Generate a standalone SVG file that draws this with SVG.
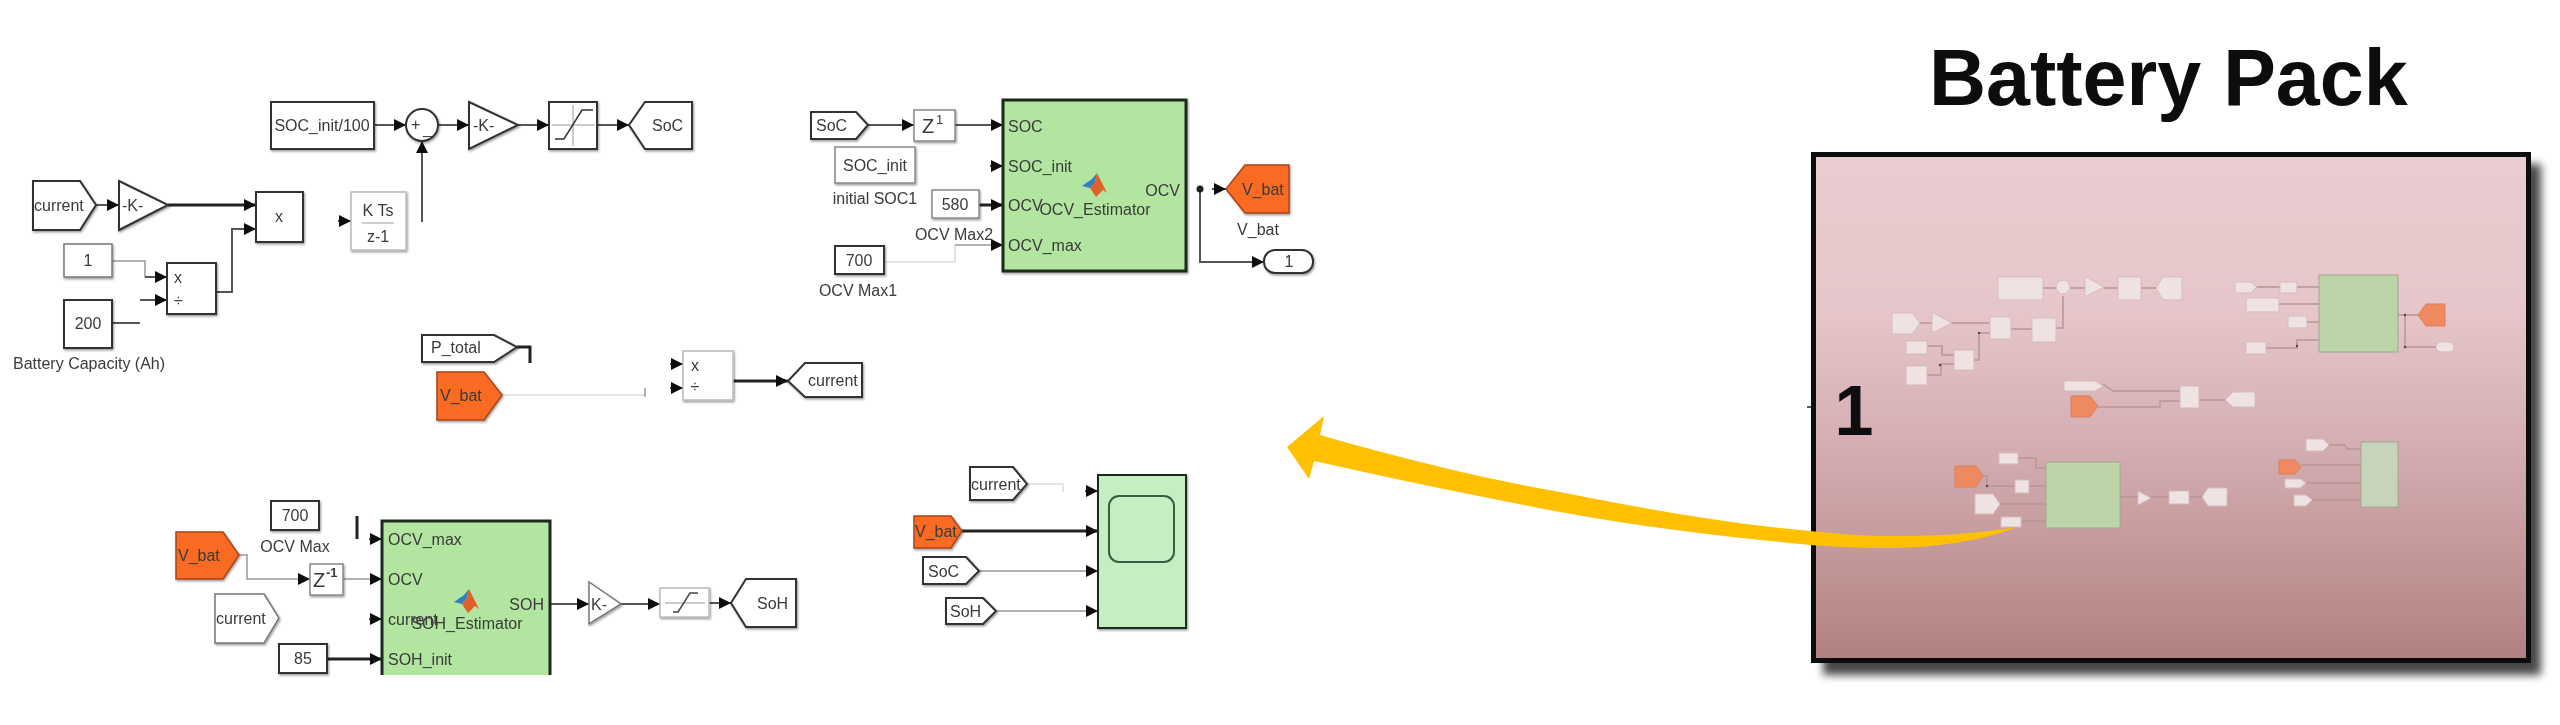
<svg xmlns="http://www.w3.org/2000/svg" width="2560" height="725" viewBox="0 0 2560 725">
<style>
text{font-family:"Liberation Sans",Arial,sans-serif;font-size:16px;fill:#3a3a3a}
.m{text-anchor:middle}
.b{fill:#fff;stroke:#333;stroke-width:2;filter:url(#sh)}
.w{fill:#fff;stroke:#bbb;stroke-width:1.5;filter:url(#sh)}
.o{fill:#f96a24;stroke:#a8451a;stroke-width:1.5;filter:url(#sh)}
.g{fill:#b2e5a0;stroke:#1e2c1e;stroke-width:3;filter:url(#sh)}
.c{fill:none;stroke:#555;stroke-width:2}
.t{fill:none;stroke:#222;stroke-width:3}
.y{fill:none;stroke:#999;stroke-width:1.5}
.l{fill:none;stroke:#ddd;stroke-width:1.5}
.a{marker-end:url(#ah)}
.mb{fill:#eee2e2;stroke:#d5bcbc;stroke-width:1}
.mo{fill:#ef8a60;stroke:#d9805c;stroke-width:1}
.mg{fill:#bdd3a8;stroke:#a0a88c;stroke-width:1}
.mc{fill:none;stroke:#b89595;stroke-width:1.5}
.md{fill:#554040}
</style>
<defs>
<linearGradient id="panel" x1="0" y1="0" x2="0" y2="1">
<stop offset="0" stop-color="#e9cdd0"/><stop offset=".31" stop-color="#e6c6ca"/><stop offset=".45" stop-color="#dcb9bd"/><stop offset=".59" stop-color="#d3acb0"/><stop offset=".73" stop-color="#c89ea0"/><stop offset=".87" stop-color="#bd8f8f"/><stop offset="1" stop-color="#b18080"/>
</linearGradient>
<filter id="sh" x="-20%" y="-20%" width="150%" height="150%"><feDropShadow dx="1" dy="1.5" stdDeviation="1" flood-color="#000" flood-opacity=".4"/></filter>
<filter id="soft" filterUnits="userSpaceOnUse" x="0" y="0" width="2560" height="725"><feGaussianBlur stdDeviation=".6"/></filter>
<filter id="blur" x="-5%" y="-5%" width="110%" height="110%"><feGaussianBlur stdDeviation="4.5"/></filter>
<marker id="ah" markerUnits="userSpaceOnUse" markerWidth="13" markerHeight="13" refX="12" refY="6" orient="auto"><path d="M0 0L12 6L0 12z" fill="#111"/></marker>
<g id="matlab">
<path d="M0 13L10 6L15 0L13 9L8 15z" fill="#2f7fc4"/>
<path d="M15 0L25 20L21 17L14 24L8 15L13 9z" fill="#e0602a"/>
</g>
</defs>
<rect id="background" width="2560" height="725" fill="#fff"/>
<g id="diagram" filter="url(#soft)">
<g id="connectors">
<path class="c a" d="M374 125H406"/>
<path class="c a" d="M438 125H469"/>
<path class="c a" d="M518 125H549"/>
<path class="c a" d="M597 125H629"/>
<path class="c a" d="M422 222V141"/>
<path class="c a" d="M96 205H119"/>
<path class="t a" d="M168 205H256"/>
<path class="c a" d="M216 292H232V229H256"/>
<path class="c a" d="M338 221H351"/>
<path class="y" d="M112 261H145V277"/>
<path class="c a" d="M145 277H167"/>
<path class="c a" d="M140 300H167"/>
<path class="c" d="M112 323H140"/>
<path class="t" d="M517 347H530V363"/>
<path class="l" d="M502 395H645"/>
<path class="y" d="M645 388V397"/>
<path class="c a" d="M670 364H683"/>
<path class="c a" d="M670 388H683"/>
<path class="t a" d="M733 381H788"/>
<path class="c a" d="M868 125H914"/>
<path class="c a" d="M955 125H1003"/>
<path class="c a" d="M990 166H1003"/>
<path class="t a" d="M979 205H1003"/>
<path class="l" d="M884 262H955V245"/>
<path class="y a" d="M955 245H1003"/>
<path class="c a" d="M1212 189H1226"/>
<path class="c a" d="M1200 189V262H1264"/>
<circle cx="1200" cy="189" r="3.5" fill="#222"/>
<path class="t" d="M357 516V539"/>
<path class="c a" d="M369 539H382"/>
<path class="y a" d="M239 555H247V579H310"/>
<path class="y a" d="M343 579H382"/>
<path class="c a" d="M369 619H382"/>
<path class="t a" d="M327 659H382"/>
<path class="c a" d="M550 604H589"/>
<path class="c a" d="M621 604H660"/>
<path class="c a" d="M709 603H731"/>
<path class="l" d="M1027 484H1063V492"/>
<path class="c a" d="M1085 491H1098"/>
<path class="t a" d="M962 531H1098"/>
<path class="y a" d="M979 571H1098"/>
<path class="y a" d="M996 611H1098"/>
</g>

<g id="soc-init-100"><rect class="b" x="271" y="102" width="103" height="47"/><text class="m" x="322" y="131">SOC_init/100</text></g>
<g id="sum"><circle class="b" cx="422" cy="125" r="16"/><text x="411" y="130" font-size="14">+</text><text x="423" y="134">_</text></g>
<g id="gain-soc"><path class="b" d="M469 102L518 125L469 149z"/><text x="473" y="131">-K-</text></g>
<g id="saturation-soc"><rect class="b" x="549" y="102" width="48" height="47"/><path d="M552 125H595M573 105V146" fill="none" stroke="#bbb" stroke-width="1.5"/><path d="M555 139H564L582 110H593" fill="none" stroke="#333" stroke-width="1.5"/></g>
<g id="goto-soc"><path class="b" d="M692 102H645L629 125L645 149H692z"/><text x="652" y="131">SoC</text></g>
<g id="from-current-1"><path class="b" d="M33 181H80L96 205L80 230H33z"/><text x="34" y="211">current</text></g>
<g id="gain-current"><path class="b" d="M119 181L168 205L119 230z"/><text x="122" y="211">-K-</text></g>
<g id="product-1"><rect class="b" x="256" y="192" width="47" height="50"/><text class="m" x="279" y="222">x</text></g>
<g id="integrator"><rect class="w" x="351" y="192" width="55" height="58"/><text class="m" x="378" y="216">K Ts</text><path d="M362 223H394" stroke="#bbb" stroke-width="1.5"/><text class="m" x="378" y="242">z-1</text></g>
<g id="const-1"><rect class="w" x="64" y="244" width="48" height="33" style="stroke:#777"/><text class="m" x="88" y="266">1</text></g>
<g id="const-200"><rect class="b" x="64" y="300" width="48" height="48"/><text class="m" x="88" y="329">200</text></g>
<g id="product-2"><rect class="b" x="167" y="263" width="49" height="51"/><text x="174" y="283">x</text><text x="174" y="306">÷</text></g>
<g id="battery-capacity"><text x="13" y="369">Battery Capacity (Ah)</text></g>

<g id="from-p-total"><path class="b" d="M422 335H494L517 347L494 362H422z"/><text x="431" y="353">P_total</text></g>
<g id="from-v-bat-1"><path class="o" d="M437 372H484L502 395L484 420H437z"/><text x="440" y="401">V_bat</text></g>
<g id="divide"><rect class="w" x="683" y="351" width="50" height="49"/><text class="m" x="695" y="371">x</text><text class="m" x="695" y="392" fill="#999">÷</text></g>
<g id="goto-current"><path class="b" d="M862 363H805L788 381L805 397H862z"/><text x="808" y="386">current</text></g>

<g id="from-soc-1"><path class="b" d="M811 112H856L868 125L856 139H811z"/><text x="816" y="131">SoC</text></g>
<g id="delay-soc"><rect class="w" x="914" y="110" width="41" height="31" style="stroke:#888"/><text x="922" y="133" font-size="20" style="font-size:20px">Z</text><text x="936" y="124" style="font-size:13px">1</text></g>
<g id="soc-init"><rect class="w" x="835" y="147" width="80" height="36" style="stroke:#888"/><text class="m" x="875" y="171">SOC_init</text></g>
<g id="label-initial-soc"><text class="m" x="875" y="204">initial SOC1</text></g>
<g id="const-580"><rect class="w" x="932" y="190" width="47" height="28" style="stroke:#888"/><text class="m" x="955" y="210">580</text></g>
<g id="label-ocv-max2"><text class="m" x="954" y="240">OCV Max2</text></g>
<g id="const-700-1"><rect class="b" x="835" y="246" width="49" height="28"/><text class="m" x="859" y="266">700</text></g>
<g id="label-ocv-max1"><text class="m" x="858" y="296">OCV Max1</text></g>
<g id="ocv-estimator"><rect class="g" x="1003" y="100" width="183" height="171"/><use href="#matlab" x="1082" y="173"/><text x="1008" y="132">SOC</text><text x="1008" y="172">SOC_init</text><text x="1008" y="211">OCV</text><text x="1008" y="251">OCV_max</text><text x="1180" y="196" text-anchor="end">OCV</text><text class="m" x="1095" y="215">OCV_Estimator</text></g>
<g id="goto-v-bat"><path class="o" d="M1289 165H1245L1226 189L1245 213H1289z"/><text x="1242" y="195">V_bat</text></g>
<g id="label-v-bat"><text class="m" x="1258" y="235">V_bat</text></g>
<g id="outport-1"><rect class="b" x="1264" y="250" width="49" height="23" rx="11"/><text class="m" x="1289" y="267">1</text></g>

<g id="const-700-2"><rect class="b" x="271" y="501" width="48" height="29"/><text class="m" x="295" y="521">700</text></g>
<g id="label-ocv-max"><text class="m" x="295" y="552">OCV Max</text></g>
<g id="from-v-bat-2"><path class="o" d="M176 532H223L239 555L223 579H176z"/><text x="178" y="561">V_bat</text></g>
<g id="delay-ocv"><rect class="w" x="310" y="564" width="33" height="31" style="stroke:#888"/><text x="313" y="587" style="font-size:20px">Z</text><text x="326" y="577" style="font-size:13px;font-weight:bold">-1</text></g>
<g id="from-current-2"><path class="w" d="M215 594H264L279 618L264 643H215z" style="stroke:#777"/><text x="216" y="624">current</text></g>
<g id="const-85"><rect class="b" x="279" y="644" width="48" height="29"/><text class="m" x="303" y="664">85</text></g>
<g id="soh-estimator"><path d="M382 675V521H550V675z" fill="#b2e5a0"/><path d="M382 675V521H550V675" fill="none" stroke="#1e2c1e" stroke-width="3"/><use href="#matlab" x="454" y="589"/><text x="388" y="545">OCV_max</text><text x="388" y="585">OCV</text><text x="388" y="625">current</text><text x="388" y="665">SOH_init</text><text x="544" y="610" text-anchor="end">SOH</text><text class="m" x="467" y="629">SOH_Estimator</text></g>
<g id="gain-soh"><path class="w" d="M589 582L621 604L589 624z" style="stroke:#777"/><text x="591" y="610">K-</text></g>
<g id="saturation-soh"><rect class="w" x="660" y="588" width="49" height="29"/><path d="M665 603H705" stroke="#bbb" stroke-width="1.5"/><path d="M673 612H678L690 593H698" fill="none" stroke="#444" stroke-width="1.5"/></g>
<g id="goto-soh"><path class="b" d="M796 579H746L731 603L746 627H796z"/><text x="757" y="609">SoH</text></g>

<g id="from-current-3"><path class="b" d="M970 467H1013L1027 484L1013 500H970z"/><text x="971" y="490">current</text></g>
<g id="from-v-bat-3"><path class="o" d="M914 516H951L962 531L951 548H914z"/><text x="915" y="537">V_bat</text></g>
<g id="from-soc-2"><path class="b" d="M923 557H966L979 571L966 584H923z"/><text x="928" y="577">SoC</text></g>
<g id="from-soh"><path class="b" d="M946 598H983L996 611L983 624H946z"/><text x="950" y="617">SoH</text></g>
<g id="scope"><rect x="1098" y="475" width="88" height="153" fill="#c5eec2" stroke="#1e2c1e" stroke-width="2" filter="url(#sh)"/><rect x="1109" y="496" width="65" height="66" rx="10" fill="#c5eec2" stroke="#3c5a42" stroke-width="2"/></g>

<g id="title"><text x="1929" y="105" style="font-size:79px;font-weight:bold;fill:#0a0a0a">Battery Pack</text></g>
<g id="battery-pack">
<rect x="1823" y="164" width="718" height="511" fill="#000" opacity=".72" filter="url(#blur)"/>
<rect x="1813.5" y="154.5" width="715" height="506" fill="url(#panel)" stroke="#0a0a0a" stroke-width="5"/>
<path d="M1807 407H1811" stroke="#222" stroke-width="1.5"/>
<text class="m" x="1854" y="435" style="font-size:70px;font-weight:bold;fill:#0a0a0a">1</text>
<g id="mini-connectors">
<path class="mc" d="M2043 288H2056M2070 288H2085M2104 288H2118M2141 288H2156M2063 296V328H2056M1920 323H1932M1952 323H1990M2011 329H2032M1927 346H1942V355H1954M1927 375H1941V364H1954M1974 360H1979V333H1990"/>
<path class="mc" d="M2257 287H2280M2297 287H2319M2279 304H2319M2307 322H2319M2266 348H2297V340H2319M2398 315H2418M2405 315V347H2436"/>
<path class="mc" d="M2103 384L2113 391H2180M2098 407H2160V401H2180M2199 400H2225"/>
<path class="mc" d="M2018 458H2036V468H2046M1983 476H1987V486H2015M2029 486H2046M2000 504H2046M2021 521H2046M2120 497H2138M2151 497H2169M2189 497H2202"/>
<path class="mc" d="M2329 445H2345L2347 449H2361M2301 465H2361M2306 483H2361M2312 500H2361"/>
<circle class="md" cx="1979" cy="333" r="1.2"/><circle class="md" cx="1940" cy="365" r="1.2"/><circle class="md" cx="2297" cy="346" r="1.2"/><circle class="md" cx="2405" cy="315" r="1.2"/><circle class="md" cx="2405" cy="347" r="1.2"/><circle class="md" cx="1987" cy="486" r="1.2"/>
</g>
<g id="mini-soc">
<rect class="mb" x="1998" y="277" width="45" height="23"/><ellipse class="mb" cx="2063" cy="287" rx="7" ry="7"/><path class="mb" d="M2085 276L2104 287L2085 297z"/><rect class="mb" x="2118" y="277" width="23" height="23"/><path class="mb" d="M2182 277H2163L2156 288L2163 300H2182z"/>
<path class="mb" d="M1892 313H1912L1920 323L1912 334H1892z"/><path class="mb" d="M1932 312L1952 323L1932 333z"/><rect class="mb" x="1990" y="317" width="21" height="22"/><rect class="mb" x="2032" y="318" width="24" height="24"/><rect class="mb" x="1906" y="341" width="21" height="13"/><rect class="mb" x="1906" y="366" width="21" height="19"/><rect class="mb" x="1954" y="350" width="20" height="20"/>
</g>
<g id="mini-ocv">
<path class="mb" d="M2235 282H2251L2257 287L2251 293H2235z"/><rect class="mb" x="2280" y="282" width="17" height="11"/><rect class="mb" x="2246" y="298" width="33" height="14"/><rect class="mb" x="2288" y="316" width="19" height="12"/><rect class="mb" x="2246" y="342" width="20" height="12"/><rect class="mg" x="2319" y="275" width="79" height="77"/><path class="mo" d="M2445 304H2426L2418 315L2426 326H2445z"/><rect class="mb" x="2436" y="342" width="18" height="10" rx="5"/>
</g>
<g id="mini-current">
<path class="mb" d="M2064 381H2095L2103 386L2095 391H2064z"/><path class="mo" d="M2071 396H2090L2098 406L2090 417H2071z"/><rect class="mb" x="2180" y="386" width="19" height="22"/><path class="mb" d="M2255 392H2233L2225 400L2233 407H2255z"/>
</g>
<g id="mini-soh">
<rect class="mb" x="1999" y="453" width="19" height="11"/><path class="mo" d="M1955 466H1976L1983 476L1976 487H1955z"/><rect class="mb" x="2015" y="480" width="14" height="13"/><path class="mb" d="M1975 494H1993L2000 504L1993 514H1975z"/><rect class="mb" x="2001" y="517" width="20" height="10"/><rect class="mg" x="2046" y="462" width="74" height="66"/><path class="mb" d="M2138 491L2151 498L2138 505z"/><rect class="mb" x="2169" y="491" width="20" height="13"/><path class="mb" d="M2227 488H2208L2202 497L2208 506H2227z"/>
</g>
<g id="mini-scope">
<path class="mb" d="M2306 439H2323L2329 445L2323 451H2306z"/><path class="mo" d="M2279 460H2295L2301 467L2295 474H2279z"/><path class="mb" d="M2285 479H2300L2306 483L2300 488H2285z"/><path class="mb" d="M2294 495H2306L2312 500L2306 506H2294z"/><rect class="mg" x="2361" y="442" width="37" height="65" style="fill:#c7d4bb"/>
</g>
</g>
<g id="callout-arrow"><path d="M1287 447L1324 416L1320 435C1400 458 1480 478 1560 492C1650 510 1730 524 1810 531C1850 535 1870 536 1893 536C1935 536 1975 534 2017 527C1990 538 1960 543 1930 546C1900 549 1870 549 1810 545C1720 536 1640 527 1560 512C1480 497 1400 480 1314 461L1309 479z" fill="#ffc000"/></g>
</g>
</svg>
